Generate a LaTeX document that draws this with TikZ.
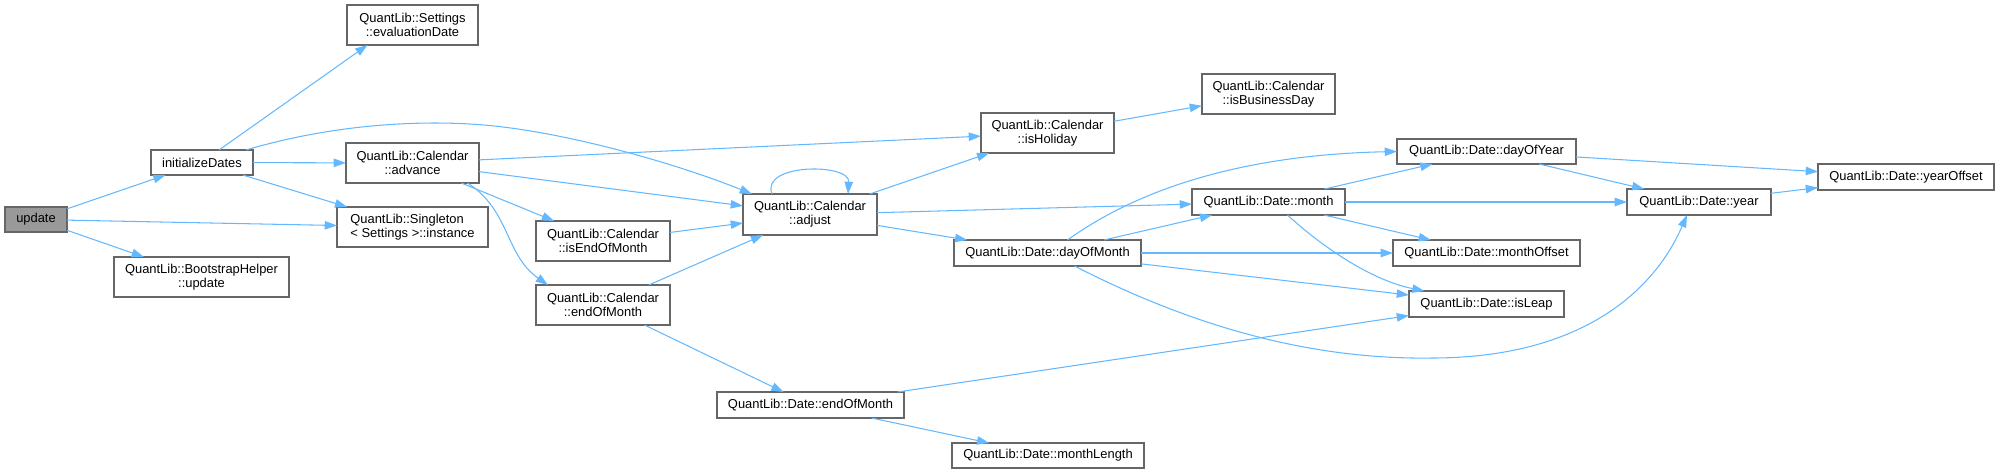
\documentclass[tikz,border=0pt]{standalone}
\usepackage{fontspec}
\setmainfont{Liberation Sans}
\usetikzlibrary{arrows.meta,calc}
\definecolor{edgeblue}{HTML}{63B8FF}
\definecolor{boxborder}{HTML}{666666}
\definecolor{rootfill}{HTML}{999999}
\begin{document}
\begin{tikzpicture}[x=0.02cm,y=-0.02cm,
  box/.style={draw=boxborder, line width=0.7pt, fill=white, inner sep=0pt, outer sep=0pt,
    align=center, font=\fontsize{7.35}{8}\selectfont, text=black},
  root/.style={box, fill=rootfill},
  e/.style={draw=edgeblue, line width=0.6pt, -{Triangle[length=7pt,width=4.8pt]}},
]
\useasboundingbox (0,0) rectangle (2000,474);

% nodes
\node[root, minimum width=1.24cm, minimum height=0.5cm] (update) at (36,219.5) {update};
\node[box, minimum width=2.04cm, minimum height=0.5cm] (initDates) at (202,162.5) {initializeDates};
\node[box, minimum width=2.62cm, minimum height=0.8cm] (evalDate) at (412.5,25) {QuantLib::Settings\\::evaluationDate};
\node[box, minimum width=2.66cm, minimum height=0.8cm] (advance) at (412.5,163) {QuantLib::Calendar\\::advance};
\node[box, minimum width=3.02cm, minimum height=0.8cm, align=left] (singleton) at (412.5,227) {QuantLib::Singleton\\< Settings >::instance};
\node[box, minimum width=3.5cm, minimum height=0.8cm] (bootstrap) at (201.5,277) {QuantLib::BootstrapHelper\\::update};
\node[box, minimum width=2.68cm, minimum height=0.8cm] (isEOM) at (603,241) {QuantLib::Calendar\\::isEndOfMonth};
\node[box, minimum width=2.68cm, minimum height=0.8cm] (calEOM) at (603,305) {QuantLib::Calendar\\::endOfMonth};
\node[box, minimum width=2.68cm, minimum height=0.82cm] (adjust) at (810,214.5) {QuantLib::Calendar\\::adjust};
\node[box, minimum width=2.66cm, minimum height=0.8cm] (isHoliday) at (1047.5,133) {QuantLib::Calendar\\::isHoliday};
\node[box, minimum width=2.66cm, minimum height=0.8cm] (isBusDay) at (1268.5,94) {QuantLib::Calendar\\::isBusinessDay};
\node[box, minimum width=3.74cm, minimum height=0.52cm] (dayOfMonth) at (1047.5,253) {QuantLib::Date::dayOfMonth};
\node[box, minimum width=3.74cm, minimum height=0.52cm] (dateEOM) at (810.5,405) {QuantLib::Date::endOfMonth};
\node[box, minimum width=3.84cm, minimum height=0.5cm] (monthLength) at (1048,455.5) {QuantLib::Date::monthLength};
\node[box, minimum width=3.06cm, minimum height=0.52cm] (month) at (1268.5,202) {QuantLib::Date::month};
\node[box, minimum width=3.58cm, minimum height=0.5cm] (dayOfYear) at (1486.5,151.5) {QuantLib::Date::dayOfYear};
\node[box, minimum width=3.74cm, minimum height=0.52cm] (monthOffset) at (1486.5,253) {QuantLib::Date::monthOffset};
\node[box, minimum width=3.1cm, minimum height=0.52cm] (isLeap) at (1486.5,304) {QuantLib::Date::isLeap};
\node[box, minimum width=2.88cm, minimum height=0.52cm] (year) at (1699,202) {QuantLib::Date::year};
\node[box, minimum width=3.52cm, minimum height=0.52cm] (yearOffset) at (1906,177) {QuantLib::Date::yearOffset};

% edges
\draw[e] (update) -- (initDates);
\draw[e] (update) -- (singleton);
\draw[e] (update) -- (bootstrap);
\draw[e] ($(initDates.north)+(17,0)$) -- ($(evalDate.south)+(-45,0)$);
\draw[e] ($(initDates.north)+(44,0)$) .. controls (320,128) and (400,120) .. (470,124)
  .. controls (560,129) and (680,165) .. ($(adjust.north)+(-58,0)$);
\draw[e] (initDates) -- (advance);
\draw[e] (initDates) -- (singleton);
\draw[e] (advance) -- (isHoliday);
\draw[e] (advance) -- (adjust);
\draw[e] (advance) -- (isEOM);
\draw[e] ($(advance.south)+(55,0)$) .. controls (510,210) and (505,255) .. ($(calEOM.north)+(-55,0)$);
\draw[e] (isEOM) -- (adjust);
\draw[e] (calEOM) -- (adjust);
\draw[e] (calEOM) -- (dateEOM);
\draw[e] ($(adjust.north)+(-38,0)$) .. controls (760,163) and (850,163) .. ($(adjust.north)+(38,0)$);
\draw[e] (adjust) -- (isHoliday);
\draw[e] (adjust) -- (month);
\draw[e] (adjust) -- (dayOfMonth);
\draw[e] (isHoliday) -- (isBusDay);
\draw[e] ($(dayOfMonth.north)+(20,0)$) .. controls (1130,195) and (1230,155) .. (dayOfYear.west);
\draw[e] (dayOfMonth) -- (month);
\draw[e] (dayOfMonth) -- (monthOffset);
\draw[e] (dayOfMonth) -- (isLeap);
\draw[e] ($(dayOfMonth.south)+(27,0)$) .. controls (1180,320) and (1300,360) .. (1432,358)
  .. controls (1570,358) and (1650,300) .. ($(year.south)+(-12,0)$);
\draw[e] (month) -- (dayOfYear);
\draw[e] (month) -- (year);
\draw[e] (month) -- (monthOffset);
\draw[e] ($(month.south)+(19,0)$) .. controls (1320,245) and (1370,280) .. ($(isLeap.north)+(-62,0)$);
\draw[e] (dayOfYear) -- (yearOffset);
\draw[e] (dayOfYear) -- (year);
\draw[e] (year) -- (yearOffset);
\draw[e] (dateEOM) -- (isLeap);
\draw[e] (dateEOM) -- (monthLength);
\end{tikzpicture}
\end{document}
